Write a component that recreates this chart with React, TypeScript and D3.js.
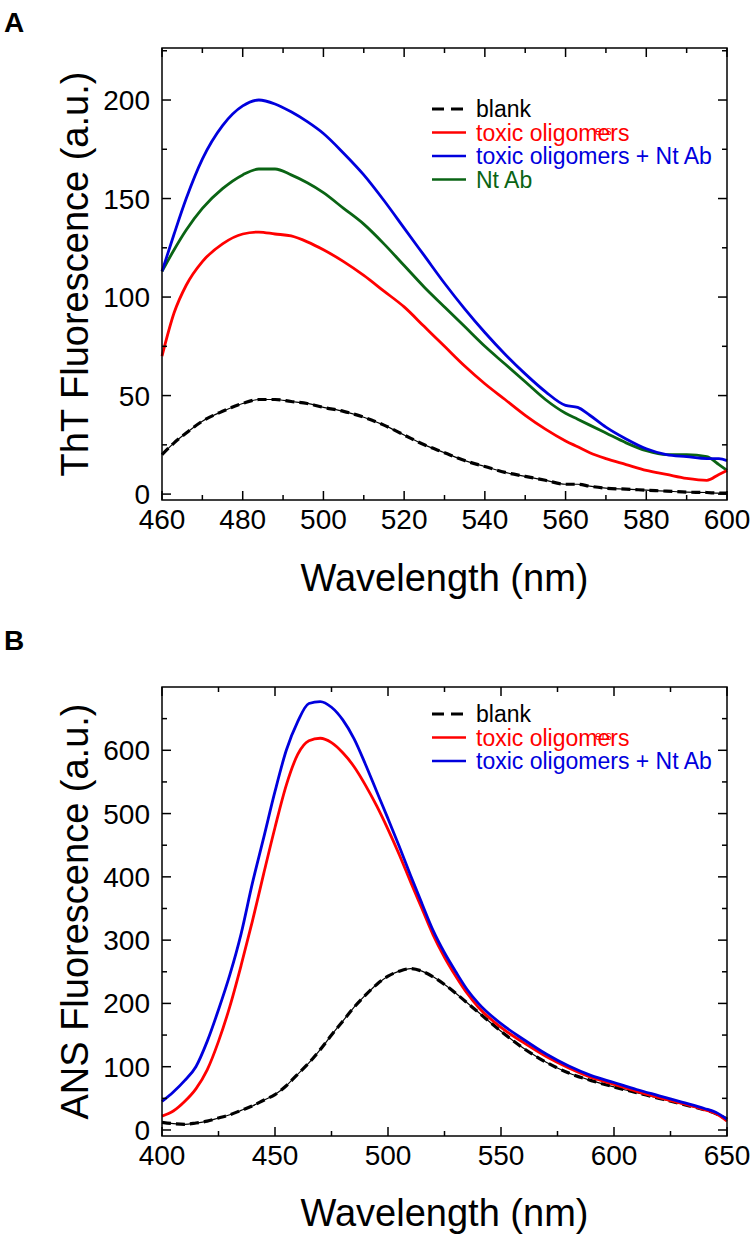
import React from 'react';
import * as d3 from 'd3';

const FONT = "'Liberation Sans', Arial, Helvetica, sans-serif";

// ---------- Panel A (ThT) ----------
const wlA = [460, 463, 466, 470, 475, 480, 484, 488, 492, 496, 500, 505, 510, 515, 520, 525, 530, 535, 540, 545, 550, 555, 560, 563, 566, 570, 575, 580, 585, 590, 595, 598, 600];
const thtBlank = [20, 26, 31, 37, 42, 46, 48, 48, 47, 46, 44, 42, 39, 35, 30, 25, 21, 17, 14, 11, 9, 7, 5, 5, 4, 3, 2.5, 2, 1.5, 1, 0.8, 0.5, 0.5];
const thtToxic = [70, 92, 106, 118, 127, 132, 133, 132, 131, 128, 124, 118, 111, 103, 95, 85, 75, 65, 56, 48, 40, 33, 27, 24, 21, 18, 15, 12, 10, 8, 7, 10, 12];
const thtToxicNtAb = [113, 132, 150, 170, 187, 197, 200, 198, 194, 189, 183, 173, 162, 149, 135, 121, 107, 94, 82, 71, 61, 52, 45, 44, 40, 34, 28, 23, 20, 19, 18, 18, 17];
const thtNtAb = [113, 124, 134, 145, 155, 162, 165, 165, 162, 158, 153, 145, 137, 127, 116, 105, 95, 85, 75, 66, 57, 48, 41, 38, 35, 31, 26, 22, 20, 20, 19, 15, 12];

// ---------- Panel B (ANS) ----------
const wlB = [400, 405, 410, 415, 420, 425, 430, 435, 440, 445, 450, 455, 460, 465, 470, 475, 480, 485, 490, 495, 500, 505, 510, 515, 520, 525, 530, 535, 540, 550, 560, 570, 580, 590, 600, 610, 620, 630, 640, 645, 650];
const ansBlank = [12, 10, 9, 11, 14, 19, 24, 31, 38, 47, 56, 70, 88, 106, 127, 150, 172, 194, 213, 230, 243, 251, 255, 251, 242, 230, 216, 201, 186, 156, 129, 107, 90, 78, 68, 59, 50, 41, 32, 26, 17];
const ansToxic = [22, 30, 45, 65, 95, 140, 195, 260, 330, 405, 478, 545, 593, 615, 619, 612, 596, 574, 545, 512, 475, 435, 392, 350, 308, 273, 243, 216, 194, 162, 138, 116, 98, 83, 72, 61, 51, 42, 32, 26, 14];
const ansToxicNtAb = [45, 60, 78, 100, 140, 190, 245, 310, 390, 462, 535, 600, 645, 674, 677, 668, 648, 618, 578, 535, 492, 448, 402, 358, 315, 280, 250, 222, 200, 168, 143, 120, 101, 86, 75, 64, 54, 44, 34, 28, 17];

const legendA = [
  { label: 'blank', color: '#000', dashed: true },
  { label: 'toxic oligomers', color: '#ff0000', dashed: false, glitch: true },
  { label: 'toxic oligomers + Nt Ab', color: '#0000dd', dashed: false },
  { label: 'Nt Ab', color: '#0a6414', dashed: false },
];
const legendB = legendA.slice(0, 3);

type Series = { x: number[]; y: number[]; color: string; dashed: boolean };

function Panel(props: {
  x0: number; x1: number; y0: number; y1: number;
  xDomain: [number, number]; yDomain: [number, number];
  xMajor: number; xMinor: number; yMajor: number; yMinor: number;
  yTickMax: number;
  series: Series[]; yTitle: string; xTitle: string; xTitleY: number;
  legend: { label: string; color: string; dashed: boolean; glitch?: boolean }[];
  legendX: number; legendY: number; legendStep: number;
  letter: string; letterY: number;
}) {
  const p = props;
  const xs = d3.scaleLinear().domain(p.xDomain).range([p.x0, p.x1]);
  const ys = d3.scaleLinear().domain(p.yDomain).range([p.y1, p.y0]);
  const eps = 1e-6;
  const xt = d3.range(p.xDomain[0], p.xDomain[1] + eps, p.xMinor);
  const ytStart = Math.ceil(p.yDomain[0] / p.yMinor) * p.yMinor;
  const yt = d3.range(ytStart, p.yTickMax + eps, p.yMinor);
  const isMaj = (v: number, m: number) => Math.abs(v / m - Math.round(v / m)) < 1e-6;
  const maj = 9, min = 5;
  return (
    <g>
      <text x={4} y={p.letterY} fontFamily={FONT} fontWeight="bold" fontSize={28}>{p.letter}</text>
      {p.series.map((s, i) => {
        const pts = s.x.map((xv, j) => [xs(xv), ys(s.y[j])] as [number, number]);
        const d = d3.line().curve(d3.curveMonotoneX)(pts) || '';
        if (s.dashed) {
          return (
            <g key={i}>
              <path d={d} fill="none" stroke="#000" strokeWidth={1.2} />
              <path d={d} fill="none" stroke="#000" strokeWidth={3.2} strokeDasharray="9,5" />
            </g>
          );
        }
        return <path key={i} d={d} fill="none" stroke={s.color} strokeWidth={2.8} strokeLinejoin="round" />;
      })}
      <rect x={p.x0} y={p.y0} width={p.x1 - p.x0} height={p.y1 - p.y0} fill="none" stroke="#000" strokeWidth={1.5} />
      {xt.map((v, i) => {
        const x = xs(v);
        const L = isMaj(v, p.xMajor) ? maj : min;
        return (
          <g key={'x' + i}>
            <line x1={x} x2={x} y1={p.y1} y2={p.y1 - L} stroke="#000" strokeWidth={1.5} />
            <line x1={x} x2={x} y1={p.y0} y2={p.y0 + L} stroke="#000" strokeWidth={1.5} />
            {isMaj(v, p.xMajor) && (
              <text x={x} y={p.y1 + 29} textAnchor="middle" fontFamily={FONT} fontSize={28}>{v}</text>
            )}
          </g>
        );
      })}
      {yt.map((v, i) => {
        const y = ys(v);
        const L = isMaj(v, p.yMajor) ? maj : min;
        return (
          <g key={'y' + i}>
            <line x1={p.x0} x2={p.x0 + L} y1={y} y2={y} stroke="#000" strokeWidth={1.5} />
            <line x1={p.x1} x2={p.x1 - L} y1={y} y2={y} stroke="#000" strokeWidth={1.5} />
            {isMaj(v, p.yMajor) && (
              <text x={p.x0 - 12} y={y + 10} textAnchor="end" fontFamily={FONT} fontSize={28}>{v}</text>
            )}
          </g>
        );
      })}
      <text transform={`translate(88, ${(p.y0 + p.y1) / 2}) rotate(-90)`} textAnchor="middle" fontFamily={FONT} fontSize={38}>{p.yTitle}</text>
      <text x={(p.x0 + p.x1) / 2} y={p.xTitleY} textAnchor="middle" fontFamily={FONT} fontSize={38}>{p.xTitle}</text>
      {p.legend.map((l, i) => {
        const y = p.legendY + i * p.legendStep;
        return (
          <g key={'l' + i}>
            {l.dashed ? (
              <line x1={p.legendX} x2={p.legendX + 34} y1={y} y2={y} stroke="#000" strokeWidth={3} strokeDasharray="12,7" />
            ) : (
              <line x1={p.legendX} x2={p.legendX + 34} y1={y} y2={y} stroke={l.color} strokeWidth={2.5} />
            )}
            <text x={p.legendX + 44} y={y + 8} fontFamily={FONT} fontSize={23} fill={l.color}>{l.label}</text>
            {l.glitch && (
              <text x={p.legendX + 44 + 119} y={y + 2} fontFamily={FONT} fontSize={12} fill={l.color}>ers</text>
            )}
          </g>
        );
      })}
    </g>
  );
}

export default function App() {
  const colors = { blank: '#000', toxic: '#ff0000', both: '#0000dd', nt: '#0a6414' };
  const seriesA: Series[] = [
    { x: wlA, y: thtBlank, color: colors.blank, dashed: true },
    { x: wlA, y: thtNtAb, color: colors.nt, dashed: false },
    { x: wlA, y: thtToxic, color: colors.toxic, dashed: false },
    { x: wlA, y: thtToxicNtAb, color: colors.both, dashed: false },
  ];
  const seriesB: Series[] = [
    { x: wlB, y: ansBlank, color: colors.blank, dashed: true },
    { x: wlB, y: ansToxic, color: colors.toxic, dashed: false },
    { x: wlB, y: ansToxicNtAb, color: colors.both, dashed: false },
  ];
  return (
    <svg width={750} height={1244} style={{ position: 'absolute', left: 0, top: 0, background: '#fff' }}>
      <rect width={750} height={1244} fill="#fff" />
      <Panel x0={162} x1={727} y0={48} y1={500} xDomain={[460, 600]} yDomain={[-3, 226.4]}
        xMajor={20} xMinor={10} yMajor={50} yMinor={25} yTickMax={225}
        series={seriesA} yTitle="ThT Fluorescence (a.u.)" xTitle="Wavelength (nm)" xTitleY={591}
        legend={legendA} legendX={432} legendY={109} legendStep={23.5} letter="A" letterY={32} />
      <Panel x0={162} x1={727} y0={687} y1={1136} xDomain={[400, 650]} yDomain={[-9.5, 700]}
        xMajor={50} xMinor={25} yMajor={100} yMinor={50} yTickMax={650}
        series={seriesB} yTitle="ANS Fluorescence (a.u.)" xTitle="Wavelength (nm)" xTitleY={1226}
        legend={legendB} legendX={432} legendY={714} legendStep={23.5} letter="B" letterY={650} />
    </svg>
  );
}
